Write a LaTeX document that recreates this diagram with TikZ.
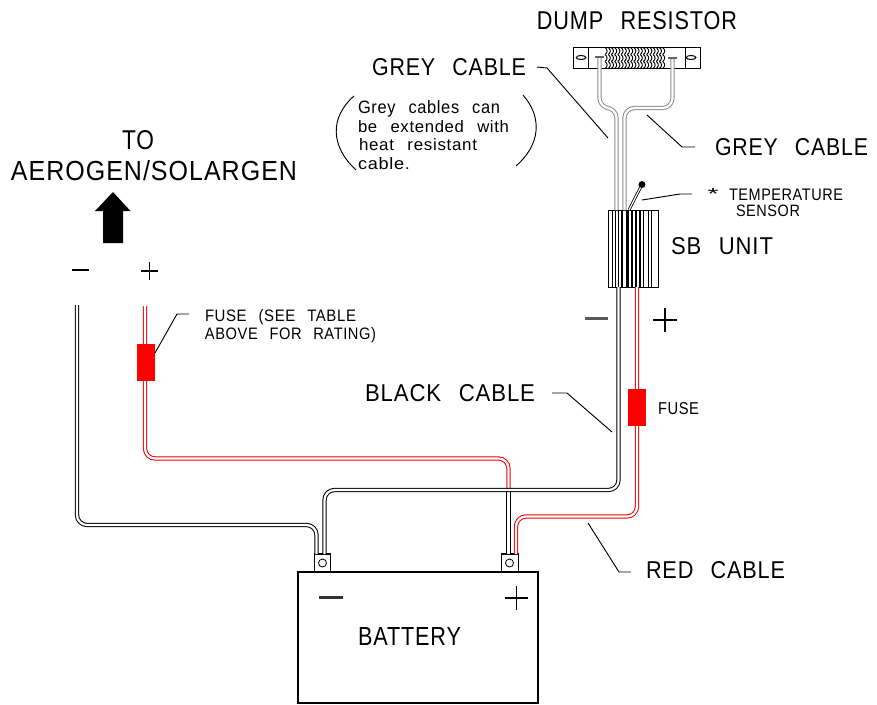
\documentclass[tikz,border=0pt]{standalone}
\usepackage{fontspec}
\usepackage{graphicx}
\newfontfamily\cadfont[LetterSpace=4,WordSpace=2.5]{Liberation Sans}
\newlength\lablen
\newlength\labhgt
\newcommand{\lab}[3]{\setlength\lablen{#1pt}\lablen=0.75\lablen\setlength\labhgt{#2pt}\labhgt=0.75\labhgt\resizebox{\lablen}{\labhgt}{\raisebox{0pt}[\height][0pt]{\cadfont #3}}}
\definecolor{cablered}{RGB}{240,0,0}
\definecolor{cablegrey}{RGB}{140,140,140}
\tikzset{
  txt/.style={inner sep=0pt,outer sep=0pt,anchor=center},
  thin line/.style={draw=black,line width=0.7pt},
  cable/.style={line width=0.75pt,double=white,double distance=1.7pt,rounded corners=7.5pt},
  blackcable/.style={cable,draw=black},
  redcable/.style={cable,draw=cablered},
  greycable/.style={cable,draw=cablegrey},
  sign/.style={draw=black,line width=1pt},
  fusebox/.style={fill=red,draw=none,minimum width=13.5pt,inner sep=0pt},
  terminal/.style={draw=black,fill=white,line width=0.75pt,minimum width=12.4pt,minimum height=13.2pt,inner sep=0pt},
  lug/.style={draw=black,circle,line width=0.6pt,minimum size=6pt,inner sep=0pt},
}
\begin{document}
\begin{tikzpicture}[x=0.75pt,y=-0.75pt]
\useasboundingbox (0,0) rectangle (877,704);
% battery
\node[draw=black,line width=0.85pt,minimum width=180pt,minimum height=98.25pt,inner sep=0pt] (battery) at (418,637.5) {};
\node[txt] (batterylab) at (409.5,636) {\lab{103}{18}{BATTERY}};
\node[terminal] (tneg) at (322.5,563) {};
\node[terminal] (tpos) at (510,563) {};
\draw[line width=1.3pt] (tneg.north west) -- (tneg.north east);
\draw[line width=1.3pt] (tpos.north west) -- (tpos.north east);
\node[lug] (lugneg) at (322.5,563) {};
\node[lug] (lugpos) at (509.5,563) {};
\coordinate (bnegA) at (316.5,554);
\coordinate (bnegB) at (324.5,554);
\coordinate (bposA) at (508.5,554);
\coordinate (bposB) at (516,554);
% battery signs
\draw[draw=black!80,line width=1.6pt] (319,597.5) -- (343,597.5);
\draw[sign] (505,598) -- (528,598) (516.5,586) -- (516.5,610);
% SB unit
\node[draw=black,line width=0.75pt,minimum width=37.5pt,minimum height=57.75pt,inner sep=0pt] (sb) at (633,248.5) {};
\foreach \x/\w in {612/0.7,615.7/0.9,618/0.7,622/0.9,626/0.7,628/0.9,632/0.9,636/0.9,640/0.9,643/0.7,648.7/0.9,651.7/0.9}
  \draw[line width=\w pt] (\x,210) -- (\x,287);
\draw[line width=1pt] (sb.south west) -- (sb.south east);
\node[txt] (sblab) at (722,246) {\lab{102}{17}{SB UNIT}};
% dump resistor
\node[draw=black,line width=0.75pt,minimum width=95.25pt,minimum height=15.75pt,inner sep=0pt] (res) at (636.5,57.5) {};
\draw[thin line] (588,47) -- (588,68) (685,47) -- (685,68);
\draw[line width=0.75pt,fill=white] (581,57.5) ellipse (3.6pt and 1.5pt);
\draw[line width=0.75pt,fill=white] (691,57.5) ellipse (3.6pt and 1.5pt);
\foreach \yy in {51,58,65}
  \foreach \xx in {605,608.2,...,665}
    \draw[line width=0.7pt] (\xx,\yy-3.5) .. controls (\xx+2.8,\yy-1.5) and (\xx+2.8,\yy+1.5) .. (\xx,\yy+3.5);
\draw[draw=cablegrey!70!black,line width=1.6pt] (595,57) -- (604,57);
\draw[draw=cablegrey!70!black,line width=1.6pt] (668,58) -- (677,58);
\node[txt] (reslab) at (637,20) {\lab{200}{18}{DUMP RESISTOR}};
\coordinate (resL) at (599.5,58);
\coordinate (resR) at (672.5,59);
% grey cables
\coordinate (sbG1) at (616.5,210);
\coordinate (sbG2) at (624.5,210);
\draw[greycable] (sbG1) -- (616.5,108) -- (599.5,108) -- (resL);
\draw[greycable] (sbG2) -- (624.5,108) -- (672.5,108) -- (resR);
% sensor
\coordinate (sdot) at (642,184.5);
\coordinate (sfoot) at (629,210);
\draw[draw=black,line width=0.6pt,double=white,double distance=0.9pt] (sfoot) -- (sdot);
\fill (sdot) circle (2.6pt);
\draw[thin line] (642,200) -- (680,194) -- (692,194);
\node[txt] (star) at (713,194) {\lab{11}{11}{*}};
\node[txt] (templab) at (786,195) {\lab{114}{11.5}{TEMPERATURE}};
\node[txt] (senslab) at (768,211) {\lab{64}{11.5}{SENSOR}};
% leads
\coordinate (redin) at (145,306);
\coordinate (blkin) at (77,305);
\coordinate (sbB) at (618.5,287);
\coordinate (sbR) at (637,287);
\coordinate (xing) at (508.5,490);
\draw[redcable] (redin) -- (145,458.5) -- (508.5,458.5) -- (xing);
\draw[redcable] (sbR) -- (637,516.5) -- (516,516.5) -- (bposB);
\draw[blackcable] (xing) -- (bposA);
\draw[blackcable] (sbB) -- (618.5,490) -- (324.5,490) -- (bnegB);
\draw[blackcable] (blkin) -- (77,525) -- (316.5,525) -- (bnegA);
% fuses
\node[fusebox,minimum height=27.75pt] (fuseL) at (146,362.5) {};
\node[fusebox,minimum height=27.75pt] (fuseR) at (637,407.5) {};
\node[txt] (fuseRlab) at (678.5,408) {\lab{41}{12}{FUSE}};
\node[txt] (fuseLlab1) at (280.5,315) {\lab{151}{12}{FUSE (SEE TABLE}};
\node[txt] (fuseLlab2) at (290.5,333) {\lab{171}{12}{ABOVE FOR RATING)}};
\draw[thin line] (155,353) -- (177,314) -- (189,314);
% signs at SB
\draw[draw=black!65,line width=1.6pt] (585,318.5) -- (608,318.5);
\draw[sign] (653,320) -- (677,320) (665,308) -- (665,332);
% signs at input
\draw[sign] (72,270) -- (89,270);
\draw[sign] (141,271) -- (158,271) (149.5,262) -- (149.5,280);
% arrow
\fill (113,192) -- (130.5,211) -- (123,211) -- (123,243) -- (103,243) -- (103,211) -- (95,211) -- cycle;
\node[txt] (tolab) at (138,140) {\lab{32}{19}{TO}};
\node[txt] (aerolab) at (154,170) {\lab{286}{20}{AEROGEN/SOLARGEN}};
% grey labels
\node[txt] (grey1) at (449,67) {\lab{154}{17}{GREY CABLE}};
\node[txt] (grey2) at (791.5,147) {\lab{153}{17}{GREY CABLE}};
\draw[thin line] (537,67) -- (547,68) -- (608,138);
\draw[thin line] (647,115) -- (682,147) -- (695,147);
% note
\node[txt] (n1) at (429,107) {\lab{142}{13}{Grey cables can}};
\node[txt] (n2) at (433.5,126) {\lab{151}{12}{be extended with}};
\node[txt] (n3) at (418,144) {\lab{118}{12}{heat resistant}};
\node[txt] (n4) at (384,163) {\lab{52}{12}{cable.}};
\draw[thin line] (354,96) .. controls (329,118) and (331,147) .. (356,170);
\draw[thin line] (523,95) .. controls (543,118) and (540,145) .. (516,166);
% black & red labels
\node[txt] (blacklab) at (450,393) {\lab{170}{17}{BLACK CABLE}};
\draw[thin line] (552,393) -- (567,393) -- (612,432);
\node[txt] (redlab) at (715.5,570) {\lab{139}{17}{RED CABLE}};
\draw[thin line] (588,523) -- (619,572) -- (631,572);
\end{tikzpicture}
\end{document}
